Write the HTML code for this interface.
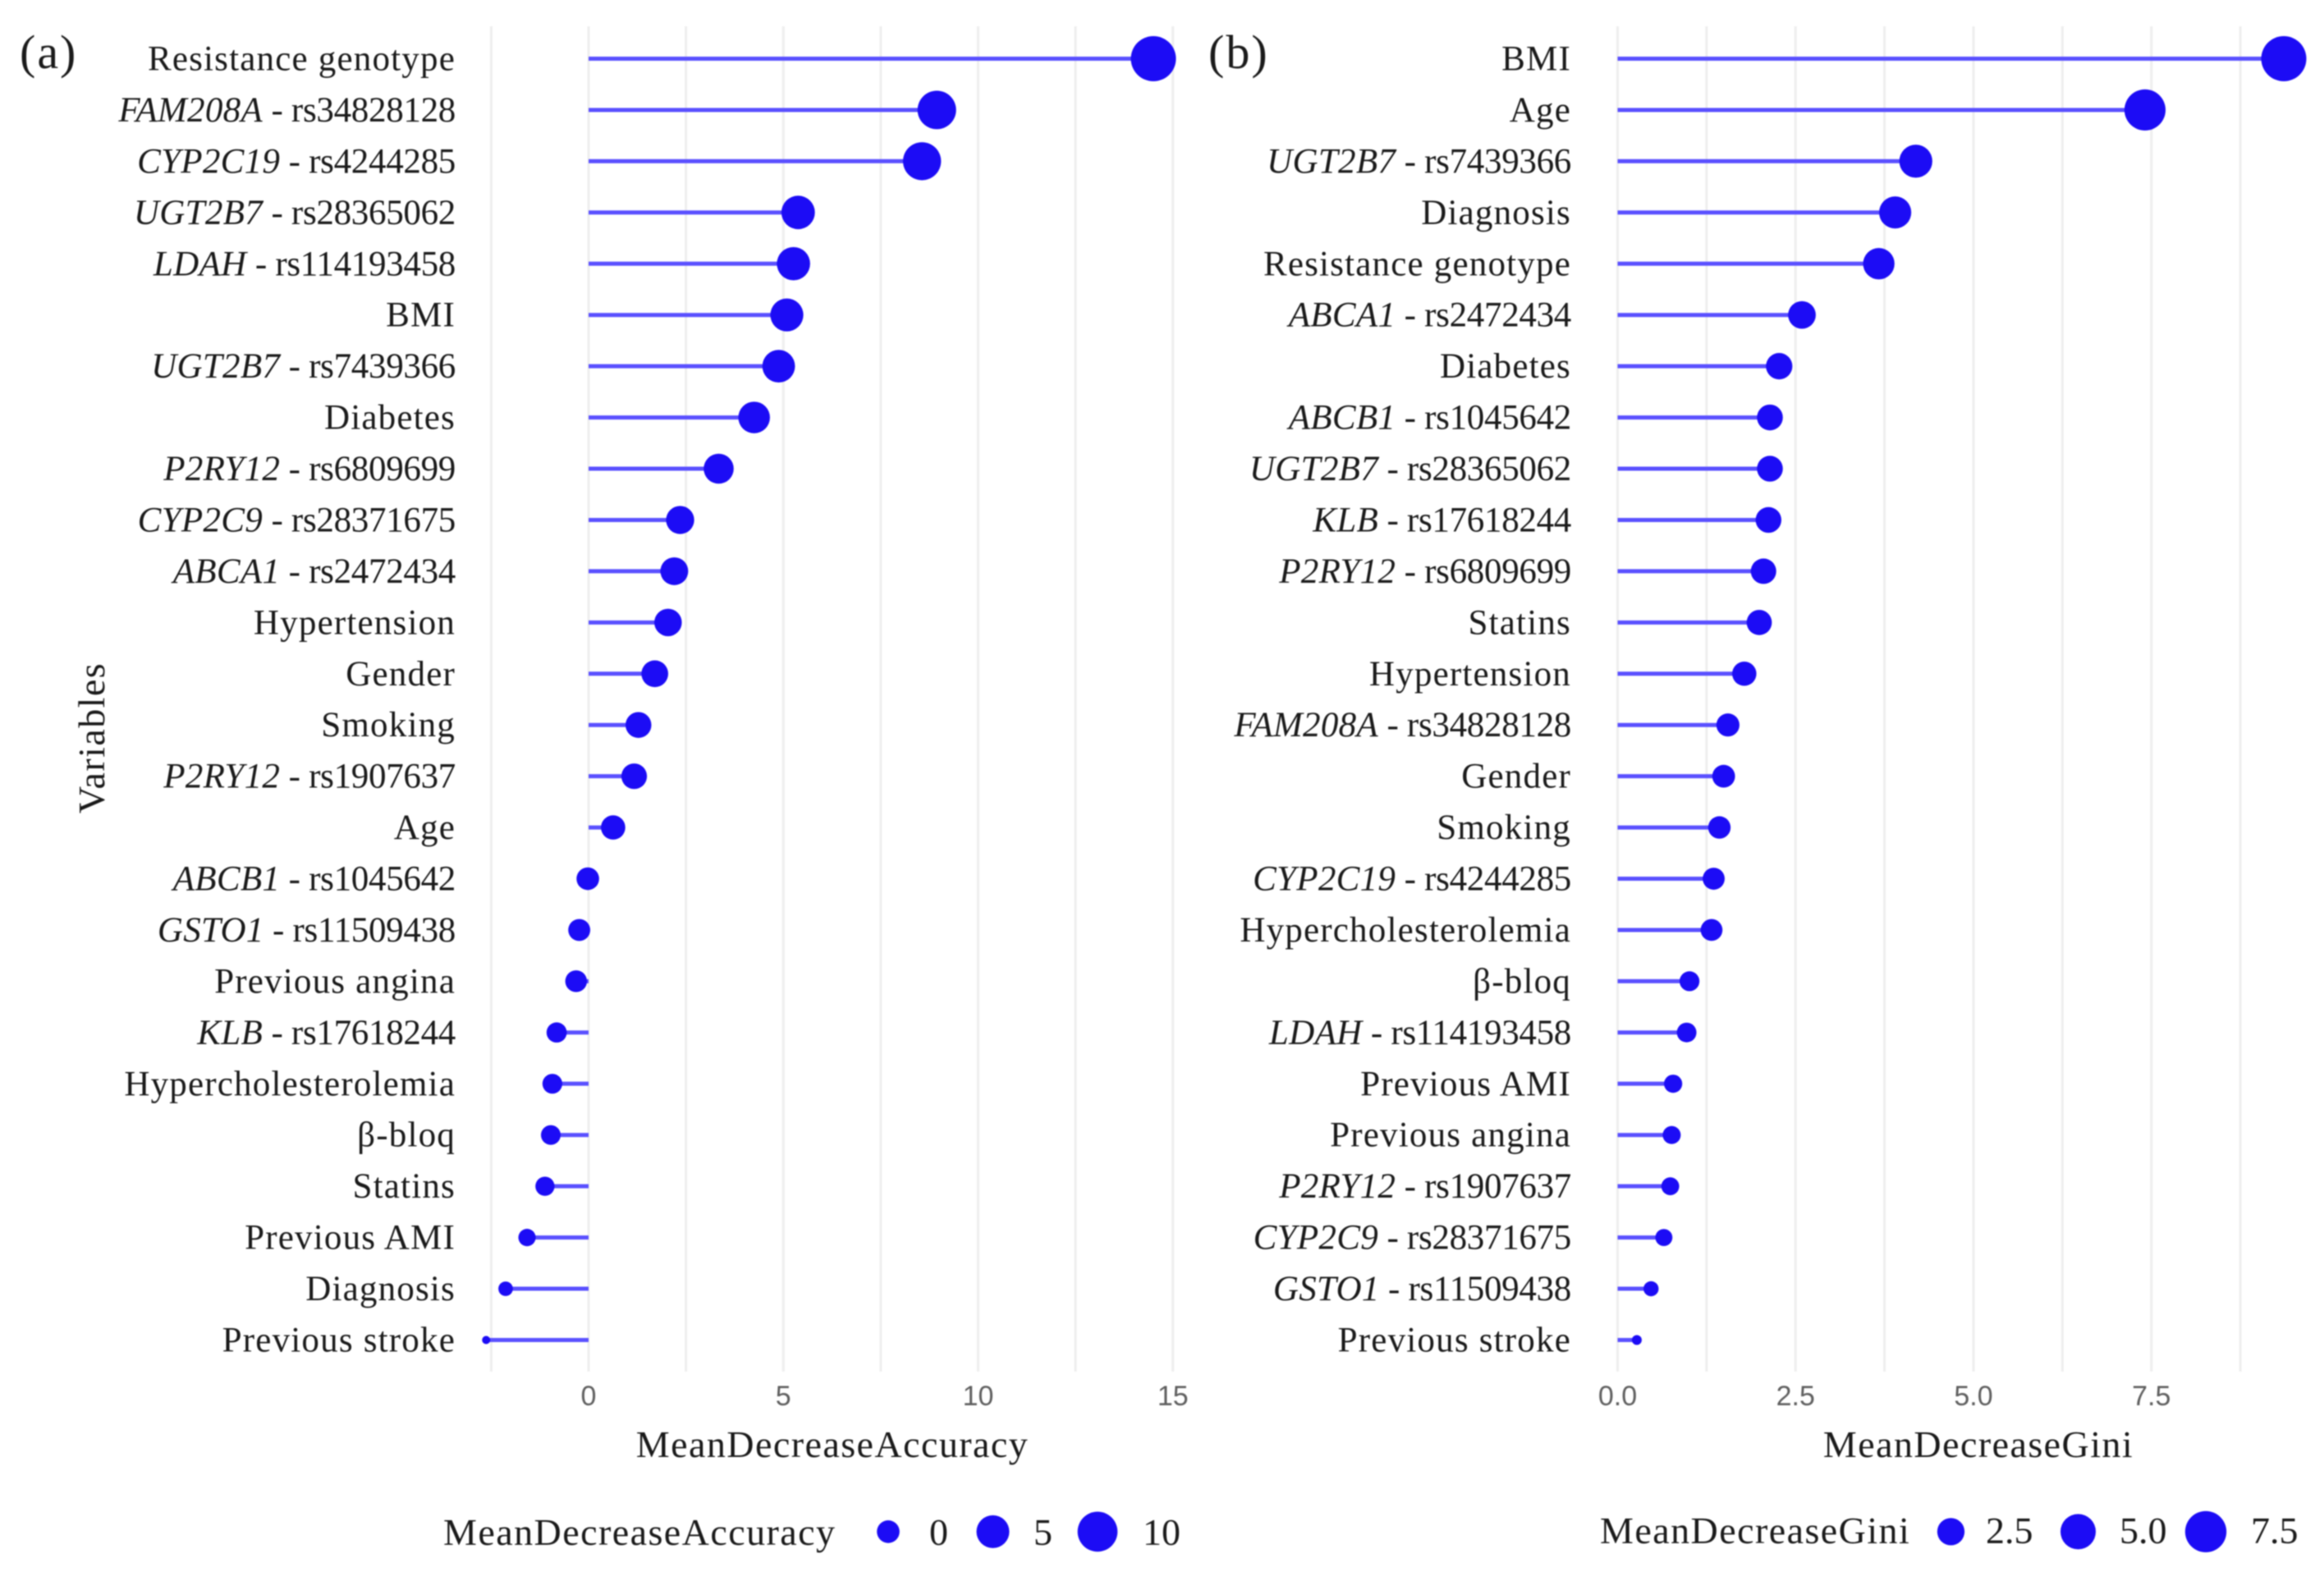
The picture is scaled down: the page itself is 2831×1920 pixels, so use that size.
<!DOCTYPE html>
<html lang="en">
<head>
<meta charset="utf-8">
<title>Variable importance lollipop charts</title>
<style>
html,body{margin:0;padding:0;background:#fff;width:2831px;height:1920px;overflow:hidden}
svg{display:block;filter:blur(0.9px)}
text{font-family:"Liberation Serif",serif;fill:#1a1a1a}
.cat{font-size:43px;letter-spacing:1.2px;text-anchor:end}
.gene{font-style:italic;letter-spacing:.3px}
.rsid{letter-spacing:-.3px}
.title{font-size:46px;letter-spacing:1.45px}
.tick{font-family:"Liberation Sans",sans-serif;font-size:34px;fill:#5f5f5f;text-anchor:middle}
.leg{font-size:46px}
.panel{font-size:58px;letter-spacing:2px}
</style>
</head>
<body>
<svg id="chart" xmlns="http://www.w3.org/2000/svg" width="2831" height="1920" viewBox="0 0 2831 1920">
  <rect width="2831" height="1920" fill="#fff"/>
  <text class="panel" x="24" y="83">(a)</text>
  <text class="panel" x="1472" y="83">(b)</text>
  <text class="title" transform="translate(127,899) rotate(-90)" text-anchor="middle">Variables</text>
  <g id="panelA"></g>
  <g id="panelB"></g>
  <text class="title" x="1014" y="1775" text-anchor="middle">MeanDecreaseAccuracy</text>
  <text class="title" x="2410" y="1775" text-anchor="middle">MeanDecreaseGini</text>
  <text class="title" x="540" y="1882">MeanDecreaseAccuracy</text>
  <text class="title" x="1949" y="1880">MeanDecreaseGini</text>
</svg>
<script>
const categoriesA = ['Resistance genotype','FAM208A - rs34828128','CYP2C19 - rs4244285','UGT2B7 - rs28365062','LDAH - rs114193458','BMI','UGT2B7 - rs7439366','Diabetes','P2RY12 - rs6809699','CYP2C9 - rs28371675','ABCA1 - rs2472434','Hypertension','Gender','Smoking','P2RY12 - rs1907637','Age','ABCB1 - rs1045642','GSTO1 - rs11509438','Previous angina','KLB - rs17618244','Hypercholesterolemia','β-bloq','Statins','Previous AMI','Diagnosis','Previous stroke'];
const valuesA = [14.5,8.94,8.56,5.38,5.26,5.09,4.88,4.25,3.34,2.35,2.2,2.04,1.7,1.28,1.17,0.63,-0.02,-0.24,-0.32,-0.82,-0.93,-0.97,-1.12,-1.58,-2.13,-2.63];
const gridValuesA = [-2.5,0,2.5,5,7.5,10,12.5,15];
const tickValuesA = [0,5,10,15];
const tickLabelsA = ['0','5','10','15'];
const legendValuesA = [0,5,10];
const legendLabelsA = ['0','5','10'];

const categoriesB = ['BMI','Age','UGT2B7 - rs7439366','Diagnosis','Resistance genotype','ABCA1 - rs2472434','Diabetes','ABCB1 - rs1045642','UGT2B7 - rs28365062','KLB - rs17618244','P2RY12 - rs6809699','Statins','Hypertension','FAM208A - rs34828128','Gender','Smoking','CYP2C19 - rs4244285','Hypercholesterolemia','β-bloq','LDAH - rs114193458','Previous AMI','Previous angina','P2RY12 - rs1907637','CYP2C9 - rs28371675','GSTO1 - rs11509438','Previous stroke'];
const valuesB = [9.36,7.41,4.19,3.9,3.67,2.59,2.27,2.14,2.14,2.12,2.05,1.99,1.78,1.55,1.49,1.43,1.35,1.32,1.01,0.97,0.78,0.76,0.74,0.65,0.47,0.27];
const gridValuesB = [0,1.25,2.5,3.75,5,6.25,7.5,8.75];
const tickValuesB = [0,2.5,5,7.5];
const tickLabelsB = ['0.0','2.5','5.0','7.5'];
const legendValuesB = [2.5,5,7.5];
const legendLabelsB = ['2.5','5.0','7.5'];

const NS = 'http://www.w3.org/2000/svg';
const DOT = '#1c0cf5';
const STEM = '#5a50ff';

function rowY(i, n) { return 71.5 + (1632.5 - 71.5) * i / (n - 1); }
function makeX(origin, perUnit) { return v => origin + perUnit * v; }
function makeD(vals, dMin, dMax) {
  const lo = Math.min(...vals), hi = Math.max(...vals);
  return v => dMin + (dMax - dMin) * Math.sqrt(Math.max(0, (v - lo) / (hi - lo)));
}
function add(parent, tag, attrs) {
  const el = document.createElementNS(NS, tag);
  for (const k in attrs) el.setAttribute(k, attrs[k]);
  parent.appendChild(el);
  return el;
}

function drawCategoryLabel(g, label, x, y) {
  const t = add(g, 'text', { x: x, y: y, class: 'cat' });
  
  
  const parts = label.split(' - ');
  if (parts.length === 2) {
    const it = add(t, 'tspan', { class: 'gene' });
    it.textContent = parts[0];
    const rs = add(t, 'tspan', { class: 'rsid' });
    rs.textContent = ' - ' + parts[1];
  } else {
    t.textContent = label;
  }
}

function drawPanel(g, categories, values, grid, tickVals, tickLabs, xOf, dOf, labelX) {
  grid.forEach(v => {
    const line = add(g, 'line', { x1: xOf(v), x2: xOf(v), y1: 32, y2: 1671, stroke: '#eeeeee', 'stroke-width': 3 });
    
    
  });
  tickVals.forEach((v, i) => {
    const t = add(g, 'text', { x: xOf(v), y: 1712, class: 'tick' });
    
    
    t.textContent = tickLabs[i];
  });
  categories.forEach((c, i) => {
    const y = rowY(i, categories.length);
    drawCategoryLabel(g, c, labelX, y + 14);
    const stem = add(g, 'line', { x1: xOf(0), x2: xOf(values[i]), y1: y, y2: y, stroke: STEM, 'stroke-width': 5 });
    
    
    const dot = add(g, 'circle', { cx: xOf(values[i]), cy: y, r: dOf(values[i]) / 2, fill: DOT });
    
    
  });
}

function drawLegend(g, vals, labs, dOf, dotXs, labelXs, cy, baseline) {
  vals.forEach((v, i) => {
    const dot = add(g, 'circle', { cx: dotXs[i], cy: cy, r: dOf(v) / 2, fill: DOT });
    
    
    const t = add(g, 'text', { x: labelXs[i], y: baseline, class: 'leg' });
    
    
    t.textContent = labs[i];
  });
}

const xA = makeX(717, 47.45);
const xB = makeX(1970.5, 86.7);
const dA = makeD(valuesA, 10, 55);
const dB = makeD(valuesB, 12, 55);
const gA = document.getElementById('panelA');
const gB = document.getElementById('panelB');
drawPanel(gA, categoriesA, valuesA, gridValuesA, tickValuesA, tickLabelsA, xA, dA, 555);
drawPanel(gB, categoriesB, valuesB, gridValuesB, tickValuesB, tickLabelsB, xB, dB, 1914);
drawLegend(gA, legendValuesA, legendLabelsA, dA, [1082, 1209.5, 1337], [1132, 1259, 1392], 1866, 1882);
drawLegend(gB, legendValuesB, legendLabelsB, dB, [2376.5, 2531.5, 2687], [2419, 2582, 2742], 1866, 1880);
</script>
</body>
</html>
